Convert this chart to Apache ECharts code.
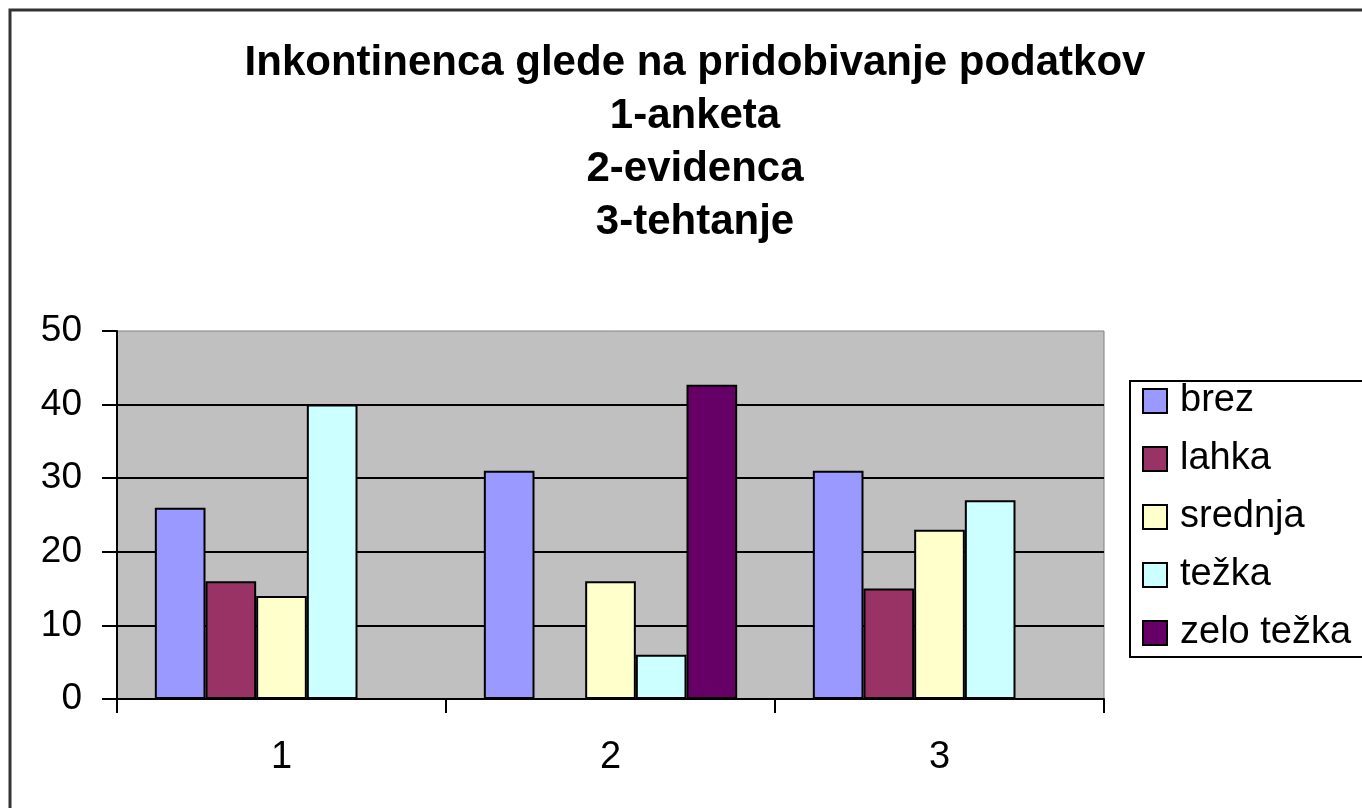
<!DOCTYPE html>
<html>
<head>
<meta charset="utf-8">
<script src="https://cdn.jsdelivr.net/npm/echarts@6/dist/echarts.min.js"></script>
<style>
  html, body { margin: 0; padding: 0; background: #fff; }
  #chart { width: 1362px; height: 808px; }
</style>
</head>
<body>
<div id="chart"></div>
<script>
const categories = ['1', '2', '3']
const seriesNames = ['brez', 'lahka', 'srednja', 'težka', 'zelo težka']
const brez = [26, 31, 31]
const lahka = [16, 0, 15]
const srednja = [14, 16, 23]
const tezka = [40, 6, 27]
const zeloTezka = [0, 42.7, 0]
const colors = ['#9999ff', '#993366', '#ffffcc', '#ccffff', '#660066']
const titleLines = ['Inkontinenca glede na pridobivanje podatkov', '1-anketa', '2-evidenca', '3-tehtanje']

const values = [brez, lahka, srednja, tezka, zeloTezka]
const font = "'Liberation Sans', Arial, sans-serif"

const chart = echarts.init(document.getElementById('chart'))

chart.setOption({
  animation: false,
  textStyle: { fontFamily: font },
  title: {
    text: titleLines.join('\n'),
    left: 695,
    top: 37,
    padding: 0,
    textAlign: 'center',
    textStyle: { fontFamily: font, fontSize: 42, fontWeight: 'bold', color: '#000', lineHeight: 53 }
  },
  graphic: [
    {
      type: 'rect',
      shape: { x: 10, y: 10, width: 1500, height: 1000 },
      style: { fill: 'none', stroke: '#333', lineWidth: 3 },
      silent: true
    }
  ],
  legend: {
    orient: 'vertical',
    left: 1130,
    top: 381,
    padding: [1, 60, 5, 12],
    backgroundColor: '#fff',
    borderColor: '#000',
    borderWidth: 2,
    borderRadius: 0,
    icon: 'rect',
    itemWidth: 24,
    itemHeight: 24,
    itemGap: 20,
    textStyle: { fontFamily: font, fontSize: 38, color: '#000', padding: [0, 0, 0, 8] },
    data: seriesNames
  },
  grid: {
    left: 117,
    right: 258,
    top: 331,
    bottom: 109,
    show: true,
    backgroundColor: '#c0c0c0',
    borderColor: '#808080',
    borderWidth: 1
  },
  xAxis: {
    type: 'category',
    data: categories,
    axisLine: { lineStyle: { color: '#000', width: 2 } },
    axisTick: { show: true, alignWithLabel: false, inside: false, length: 14, lineStyle: { color: '#000', width: 2 } },
    axisLabel: { color: '#000', fontSize: 38, margin: 40, fontFamily: font }
  },
  yAxis: {
    type: 'value',
    min: 0,
    max: 50,
    interval: 10,
    axisLine: { show: true, lineStyle: { color: '#000', width: 2 } },
    axisTick: { show: true, inside: false, length: 15, lineStyle: { color: '#000', width: 2 } },
    axisLabel: { color: '#000', fontSize: 37, margin: 35, fontFamily: font },
    splitLine: { show: true, showMaxLine: false, lineStyle: { color: '#000', width: 2 } }
  },
  series: seriesNames.map((name, i) => ({
    name,
    type: 'bar',
    data: values[i],
    barGap: '0%',
    barCategoryGap: '23%',
    itemStyle: { color: colors[i], borderColor: '#000', borderWidth: 2 }
  }))
})
</script>
</body>
</html>
